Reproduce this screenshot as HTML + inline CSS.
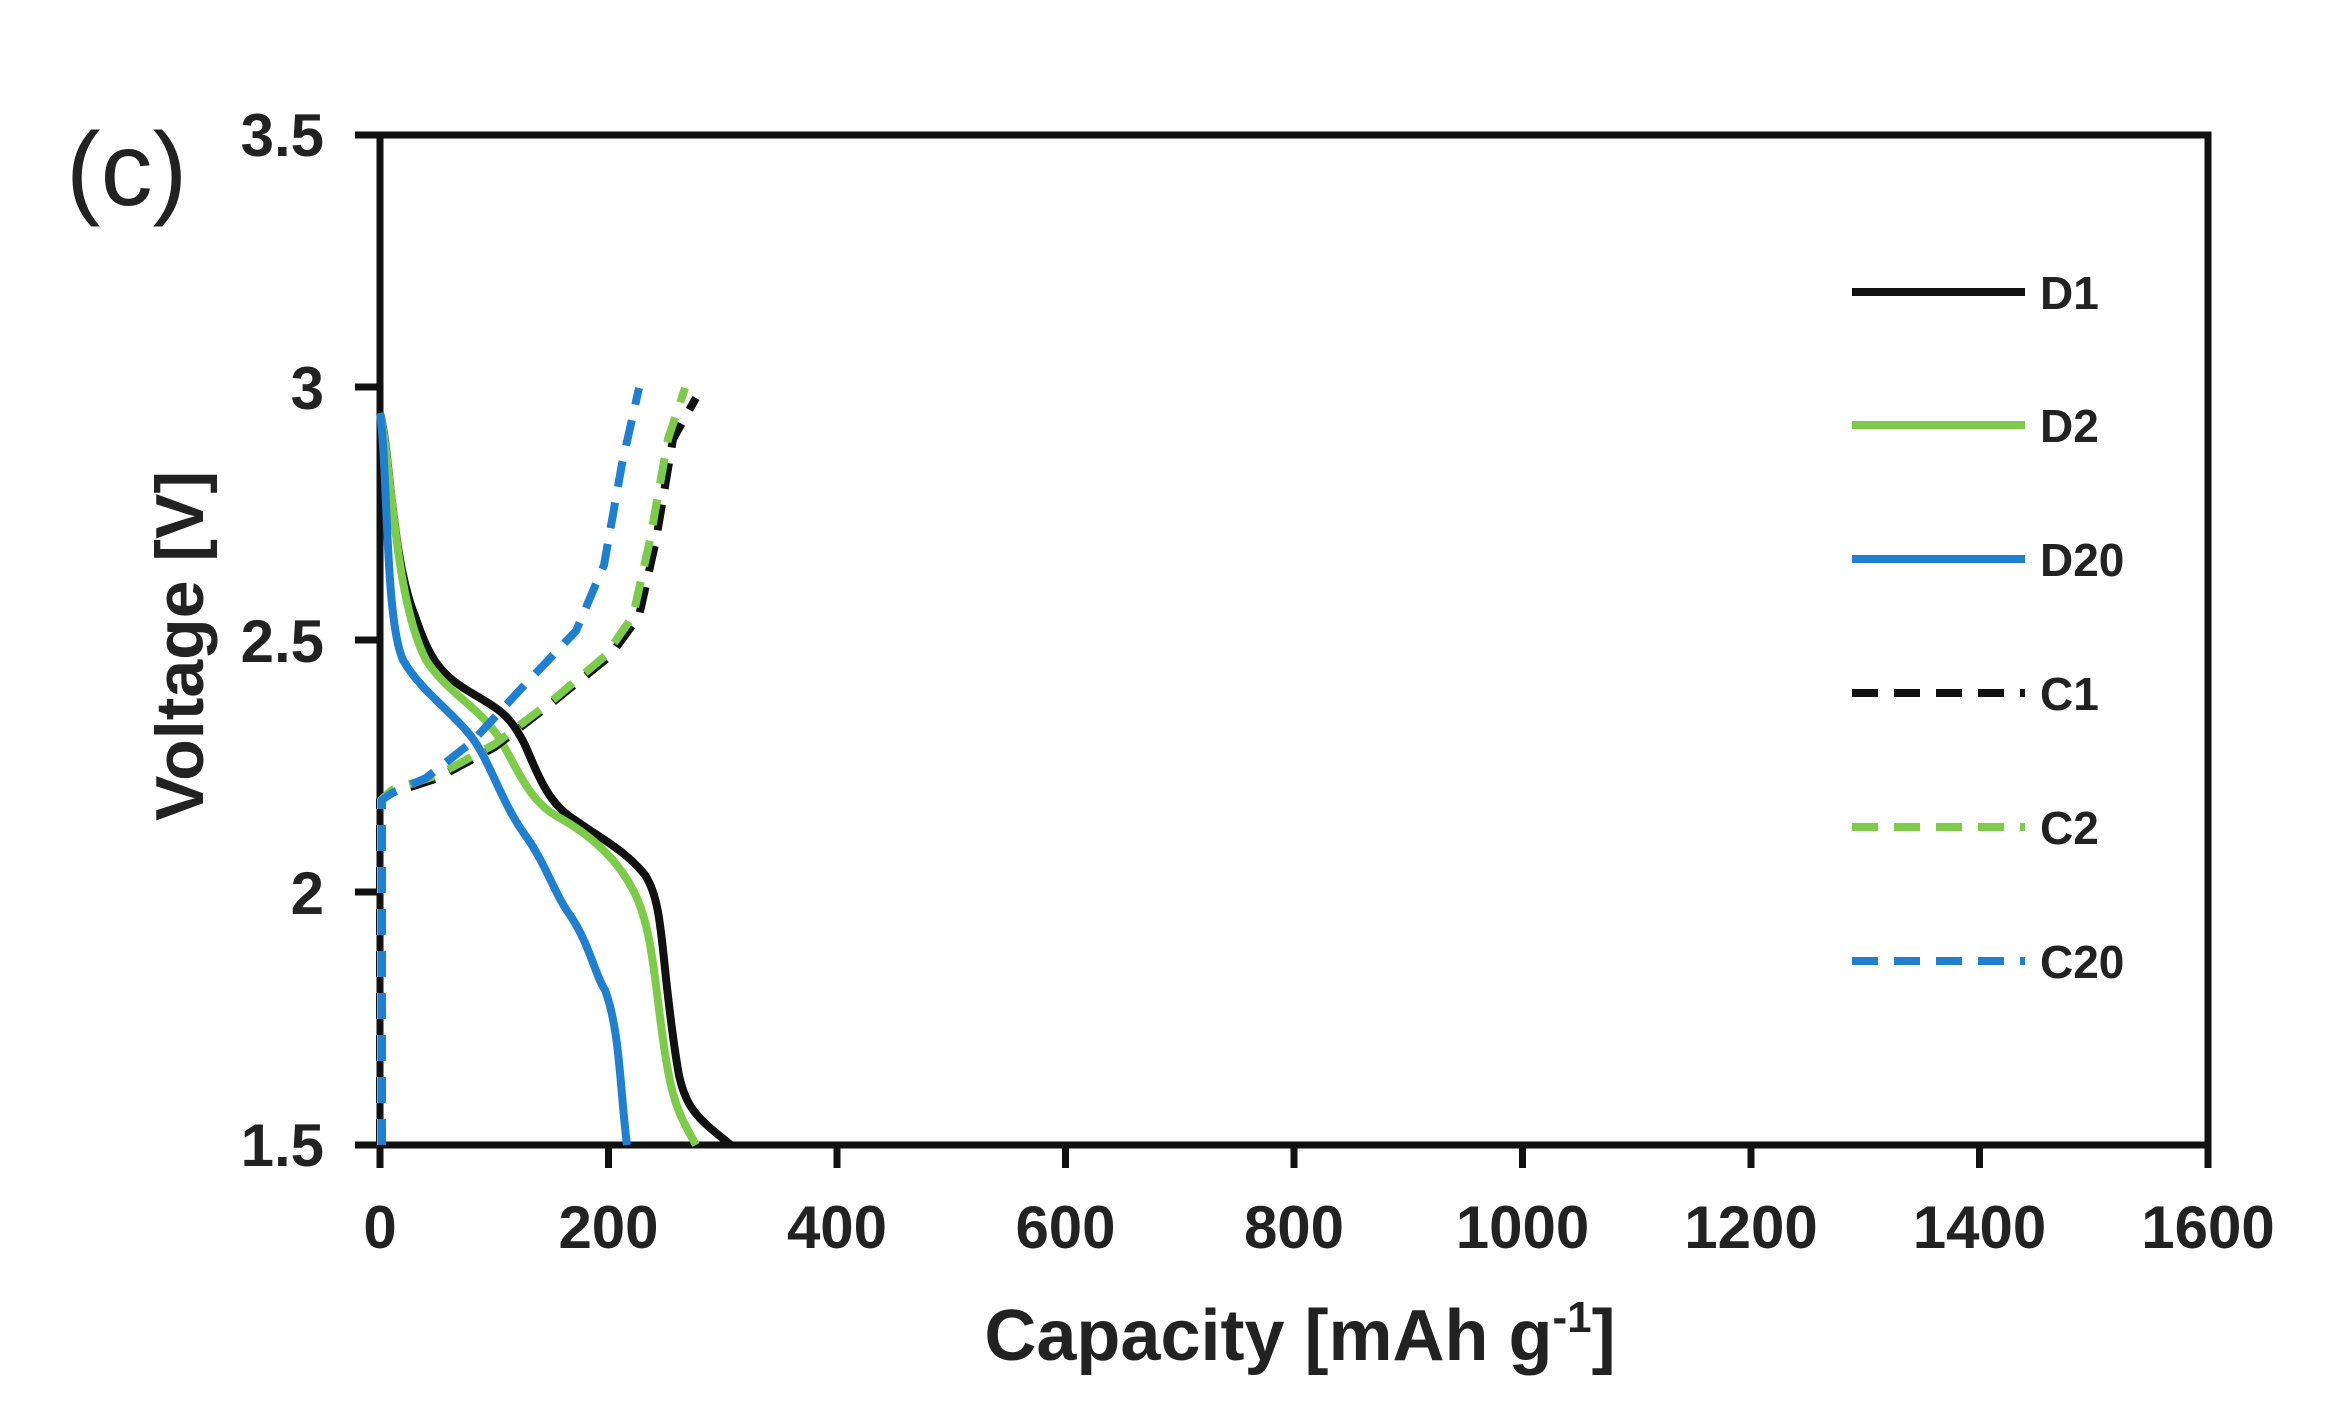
<!DOCTYPE html>
<html><head><meta charset="utf-8"><style>
html,body{margin:0;padding:0;background:#fff;}
svg{display:block;}
text{font-family:"Liberation Sans",Arial,sans-serif;font-weight:bold;fill:#222;}
</style></head><body>
<svg width="2344" height="1424" viewBox="0 0 2344 1424" xmlns="http://www.w3.org/2000/svg">
<rect width="2344" height="1424" fill="#fff"/>
<text x="66" y="205" style="font-weight:normal;font-size:104px">(c)</text>
<rect x="380" y="135" width="1828" height="1010" fill="none" stroke="#111" stroke-width="7"/>
<g stroke="#111" stroke-width="7">
<line x1="355" y1="135" x2="380" y2="135"/><line x1="355" y1="387" x2="380" y2="387"/>
<line x1="355" y1="640" x2="380" y2="640"/><line x1="355" y1="892" x2="380" y2="892"/>
<line x1="355" y1="1145" x2="380" y2="1145"/>
<line x1="380" y1="1145" x2="380" y2="1168"/><line x1="608.5" y1="1145" x2="608.5" y2="1168"/>
<line x1="837" y1="1145" x2="837" y2="1168"/><line x1="1065.5" y1="1145" x2="1065.5" y2="1168"/>
<line x1="1294" y1="1145" x2="1294" y2="1168"/><line x1="1522.5" y1="1145" x2="1522.5" y2="1168"/>
<line x1="1751" y1="1145" x2="1751" y2="1168"/><line x1="1979.5" y1="1145" x2="1979.5" y2="1168"/>
<line x1="2208" y1="1145" x2="2208" y2="1168"/>
</g>
<g font-size="60" text-anchor="end">
<text x="324" y="156">3.5</text><text x="324" y="409">3</text><text x="324" y="662">2.5</text>
<text x="324" y="914">2</text><text x="324" y="1166">1.5</text>
</g>
<g font-size="60" text-anchor="middle">
<text x="380" y="1248">0</text><text x="608.5" y="1248">200</text><text x="837" y="1248">400</text>
<text x="1065.5" y="1248">600</text><text x="1294" y="1248">800</text><text x="1522.5" y="1248">1000</text>
<text x="1751" y="1248">1200</text><text x="1979.5" y="1248">1400</text><text x="2208" y="1248">1600</text>
</g>
<text x="1300" y="1360" font-size="72" text-anchor="middle">Capacity [mAh g<tspan font-size="44" dy="-28">-1</tspan><tspan dy="28">]</tspan></text>
<text transform="translate(203,646) rotate(-90)" font-size="68" text-anchor="middle">Voltage [V]</text>
<g fill="none" stroke-width="8" stroke-linejoin="round" stroke-linecap="butt">
<path stroke="#111" d="M380,413 C390,450 392,560 415,616 C430,660 440,675 475,695 C500,710 510,715 525,745 C540,780 550,805 575,820 C600,838 625,850 645,875 C665,905 660,960 678,1070 C685,1110 700,1120 731,1145"/>
<path stroke="#7ccc4a" d="M380,413 C392,470 395,600 426,660 C445,690 475,705 495,732 C515,760 525,800 560,818 C585,832 615,855 633,890 C655,930 655,1000 668,1071 C675,1110 685,1125 696,1145"/>
<path stroke="#1f7fd0" d="M380,413 C388,470 385,620 403,660 C420,690 450,710 470,735 C490,760 500,800 525,835 C545,862 555,895 570,915 C590,945 595,975 605,990 C620,1030 620,1090 627,1145"/>
<polyline stroke="#111" stroke-dasharray="26,16" points="380,1145 380,800 392,793 438,778 495,747 553,702 610,656 639,616 656,540 673,439 696,398"/>
<polyline stroke="#7ccc4a" stroke-dasharray="26,16" points="381,1145 381,800 392,790 438,775 495,744 553,700 605,656 633,616 650,540 668,439 685,388"/>
<polyline stroke="#1f7fd0" stroke-dasharray="26,16" points="382,1145 382,800 392,793 426,778 472,742 518,692 576,631 604,565 622,464 639,388"/>
</g>
<g stroke-width="8">
<line x1="1852" y1="292" x2="2025" y2="292" stroke="#111"/>
<line x1="1852" y1="425" x2="2025" y2="425" stroke="#7ccc4a"/>
<line x1="1852" y1="559" x2="2025" y2="559" stroke="#1f7fd0"/>
<line x1="1852" y1="693" x2="2025" y2="693" stroke="#111" stroke-dasharray="26,16"/>
<line x1="1852" y1="827" x2="2025" y2="827" stroke="#7ccc4a" stroke-dasharray="26,16"/>
<line x1="1852" y1="961" x2="2025" y2="961" stroke="#1f7fd0" stroke-dasharray="26,16"/>
</g>
<g font-size="46">
<text x="2040" y="309">D1</text><text x="2040" y="442">D2</text><text x="2040" y="576">D20</text>
<text x="2040" y="710">C1</text><text x="2040" y="844">C2</text><text x="2040" y="978">C20</text>
</g>
</svg>
</body></html>
